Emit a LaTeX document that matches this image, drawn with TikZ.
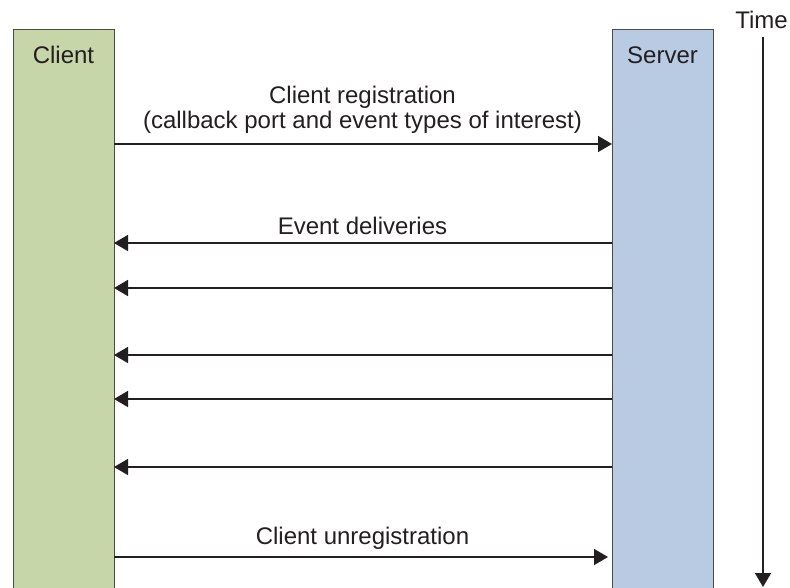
\documentclass[tikz,border=0pt]{standalone}
\usepackage{fontspec}
\setmainfont{Liberation Sans}
\usetikzlibrary{arrows.meta}
\definecolor{clientgreen}{HTML}{C6D6A9}
\definecolor{serverblue}{HTML}{B9CAE3}
\definecolor{edgegray}{HTML}{4A4A4A}
\definecolor{ink}{HTML}{231F20}
\begin{document}
\begin{tikzpicture}[x=1pt,y=-1pt,
  lifebox/.style={draw=edgegray,line width=1.4pt,minimum width=101pt,minimum height=580pt,anchor=north west,inner sep=0pt},
  lbl/.style={font=\fontsize{24}{28}\selectfont,text=ink,anchor=base,inner sep=0pt},
  msg/.style={draw=ink,line width=1.6pt,-{Triangle[length=14pt,width=16pt]}}]
\useasboundingbox (0,0) rectangle (790,587);
\clip (0,0) rectangle (790,587);
\node[lifebox,fill=clientgreen] (client) at (13,29) {};
\node[lifebox,fill=serverblue] (server) at (612,29) {};
\node[lbl] (clientlbl) at (63.5,63) {Client};
\node[lbl] (serverlbl) at (662.5,63) {Server};
\node[lbl] (timelbl) at (761.5,28) {Time};
% time axis
\coordinate (tstart) at (763,37);
\coordinate (tend) at (763,587);
\draw[msg] (tstart) -- (tend);
% message rows
\foreach \n/\y in {r/144,e1/243,e2/288,e3/355,e4/399,e5/467,u/557}{
  \coordinate (c\n) at (114,\y);
  \coordinate (s\n) at (612,\y);
}
\draw[msg] (cr) -- (sr);
\draw[msg] (se1) -- (ce1);
\draw[msg] (se2) -- (ce2);
\draw[msg] (se3) -- (ce3);
\draw[msg] (se4) -- (ce4);
\draw[msg] (se5) -- (ce5);
\draw[msg] (cu) -- ([xshift=-4pt]su);
\node[lbl] (reg1) at (362.5,103) {Client registration};
\node[lbl] (reg2) at (362.5,128) {(callback port and event types of interest)};
\node[lbl] (ev) at (362.5,234) {Event deliveries};
\node[lbl] (unreg) at (362.5,544) {Client unregistration};
\end{tikzpicture}
\end{document}
